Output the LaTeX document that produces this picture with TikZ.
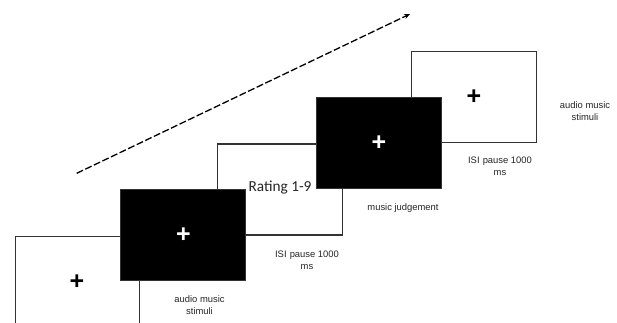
\documentclass[tikz,border=0pt]{standalone}
\usepackage{fontspec}
\setmainfont{Liberation Sans}
\newfontfamily\ratingfont{Carlito}
\usetikzlibrary{arrows.meta}
\begin{document}
\begin{tikzpicture}[x=1pt,y=-1pt,
  screen/.style={draw=black!80,line width=1.3pt,minimum width=125pt,minimum height=91pt,inner sep=0pt,anchor=north west},
  whitescreen/.style={screen,fill=white},
  blackscreen/.style={screen,fill=black},
  fixcross/.style={font=\bfseries\fontsize{25}{25}\selectfont,inner sep=0pt},
  caption/.style={font=\fontsize{9.4}{12}\selectfont,align=center,text=black!85,inner sep=0pt},
  timeline/.style={line width=1.3pt,dash pattern=on 7pt off 2.5pt,-{Stealth[length=6pt,width=5pt]}}]
\useasboundingbox (0,0) rectangle (617,323);
\clip (0,0) rectangle (617,323);
\fill[white] (0,0) rectangle (617,323);

% white screens (drawn first, black screens overlap them)
\node[whitescreen,minimum width=124pt,minimum height=95pt] (s1) at (14.7,235.7) {};
\node[whitescreen] (s5) at (410.7,50.7) {};
\node[whitescreen] (s3) at (216.7,143.3) {};
\node[blackscreen] (s2) at (120,188.7) {};
\node[blackscreen] (s4) at (316,96.7) {};

% fixation crosses and rating prompt
\node[fixcross] (c1) at (77,282.5) {+};
\node[fixcross,text=white] (c2) at (183.3,235.5) {+};
\node[fixcross,text=white] (c4) at (379,143) {+};
\node[fixcross] (c5) at (473.8,96.8) {+};
\node[font=\ratingfont\fontsize{15.3}{16}\selectfont,text=black!85,inner sep=0pt] (rating) at (280,188) {Rating 1-9};

% captions
\node[caption] (l2) at (199.5,305) {audio music\\stimuli};
\node[caption] (l3) at (307,260.5) {ISI\,\,pause 1000\\ms};
\node[caption] (l4) at (403,208.5) {music judgement};
\node[caption] (l5) at (500,166.5) {ISI\,\,pause 1000\\ms};
\node[caption] (l6) at (585,111.5) {audio music\\stimuli};

% time arrow
\coordinate (tstart) at (76.7,173.3);
\coordinate (tend) at (410,14);
\draw[timeline] (tstart) -- (tend);
\end{tikzpicture}
\end{document}
